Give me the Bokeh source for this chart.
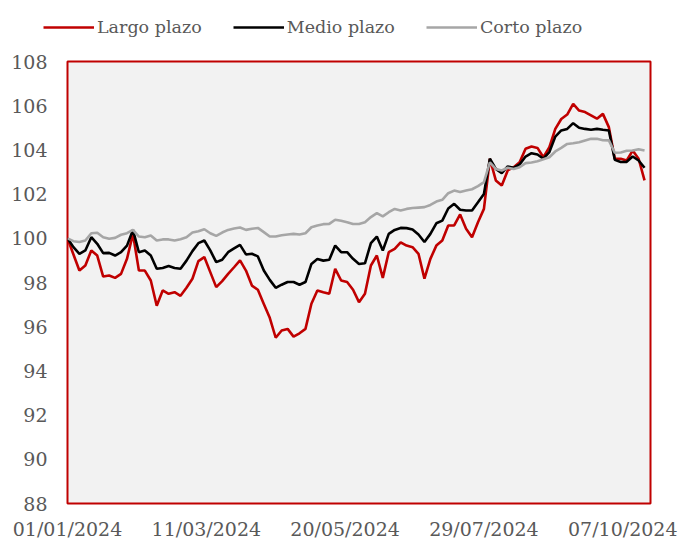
import numpy as np
import pandas as pd
from bokeh.plotting import figure
from bokeh.layouts import column
from bokeh.models import FixedTicker, DatetimeTickFormatter, Legend, LegendItem, Range1d
from bokeh.embed import file_html
from bokeh.resources import INLINE

start_date = "2024-01-01"
n_points = 98
step = "3D"

largo = [100.0, 99.27, 98.54, 98.77, 99.45, 99.22, 98.27, 98.32, 98.21, 98.39,
         99.07, 100.20, 98.54, 98.54, 98.09, 96.95, 97.64, 97.49, 97.56, 97.40,
         97.76, 98.17, 98.97, 99.15, 98.47, 97.79, 98.06, 98.39, 98.69, 99.00,
         98.54, 97.86, 97.67, 97.03, 96.40, 95.50, 95.83, 95.90, 95.55, 95.70,
         95.90, 97.04, 97.64, 97.56, 97.49, 98.62, 98.09, 98.02, 97.67, 97.11,
         97.49, 98.77, 99.22, 98.21, 99.37, 99.52, 99.82, 99.67, 99.60, 99.30,
         98.17, 99.07, 99.67, 99.90, 100.58, 100.58, 101.08, 100.43, 100.05, 100.73,
         101.33, 103.60, 102.62, 102.39, 103.07, 103.22, 103.44, 104.05, 104.15, 104.09,
         103.67, 104.12, 104.95, 105.40, 105.60, 106.08, 105.78, 105.71, 105.56, 105.41,
         105.63, 105.03, 103.60, 103.60, 103.52, 103.97, 103.60, 102.62]

medio = [100.0, 99.60, 99.30, 99.45, 100.05, 99.75, 99.33, 99.34, 99.22, 99.37,
         99.67, 100.38, 99.37, 99.45, 99.22, 98.62, 98.66, 98.75, 98.66, 98.62,
         98.99, 99.42, 99.78, 99.90, 99.45, 98.92, 99.03, 99.37, 99.54, 99.70,
         99.27, 99.30, 99.18, 98.54, 98.12, 97.76, 97.90, 98.02, 98.02, 97.90,
         98.02, 98.84, 99.06, 98.99, 99.03, 99.67, 99.37, 99.37, 99.07, 98.84,
         98.87, 99.78, 100.08, 99.45, 100.20, 100.38, 100.47, 100.46, 100.40, 100.17,
         99.83, 100.20, 100.68, 100.80, 101.35, 101.56, 101.29, 101.26, 101.26, 101.63,
         102.01, 103.60, 103.14, 102.95, 103.25, 103.19, 103.34, 103.70, 103.85, 103.79,
         103.60, 103.90, 104.60, 104.88, 104.95, 105.21, 105.00, 104.95, 104.91, 104.95,
         104.91, 104.88, 103.55, 103.45, 103.46, 103.70, 103.52, 103.19]

corto = [100.0, 99.87, 99.83, 99.90, 100.23, 100.25, 100.05, 99.98, 100.02, 100.16,
         100.23, 100.38, 100.08, 100.05, 100.13, 99.90, 99.95, 99.95, 99.90, 99.96,
         100.05, 100.26, 100.32, 100.41, 100.23, 100.11, 100.26, 100.38, 100.44, 100.49,
         100.38, 100.43, 100.47, 100.28, 100.08, 100.08, 100.14, 100.17, 100.20, 100.17,
         100.23, 100.50, 100.58, 100.64, 100.65, 100.84, 100.79, 100.73, 100.65, 100.65,
         100.73, 100.96, 101.14, 100.99, 101.18, 101.33, 101.26, 101.33, 101.37, 101.39,
         101.41, 101.51, 101.66, 101.74, 102.04, 102.16, 102.09, 102.16, 102.22, 102.36,
         102.54, 103.44, 103.14, 103.07, 103.19, 103.14, 103.22, 103.40, 103.43, 103.49,
         103.58, 103.67, 103.93, 104.09, 104.27, 104.30, 104.35, 104.43, 104.50, 104.50,
         104.44, 104.43, 103.87, 103.88, 103.96, 103.97, 104.03, 103.97]

tick_dates = ["2024-01-01", "2024-03-11", "2024-05-20", "2024-07-29", "2024-10-07"]
y_ticks = [88, 90, 92, 94, 96, 98, 100, 102, 104, 106, 108]
series_names = ["Largo plazo", "Medio plazo", "Corto plazo"]
series_colors = ["#c00000", "#000000", "#a6a6a6"]

dates = pd.date_range(start_date, periods=n_points, freq=step)

FONT = "DejaVu Serif"
TXT = "#595959"
LW = 2.6

# ---- main chart ----
p = figure(frame_width=583, frame_height=442, x_axis_type="datetime",
           output_backend="svg", toolbar_location=None,
           x_range=Range1d(pd.Timestamp("2024-01-01"), pd.Timestamp("2024-10-21")),
           y_range=Range1d(88, 108),
           min_border_left=67, min_border_right=42, min_border_top=18, min_border_bottom=40)
p.frame_align = False

p.background_fill_color = "#f2f2f2"
p.border_fill_color = "white"
p.outline_line_color = "#c00000"
p.outline_line_width = 2
p.xgrid.visible = False
p.ygrid.visible = False

for vals, col in zip([largo, medio, corto], series_colors):
    p.line(dates, vals, line_color=col, line_width=LW)

tick_ms = [pd.Timestamp(d).value // 10**6 for d in tick_dates]
p.xaxis.ticker = FixedTicker(ticks=tick_ms)
fmt = "%d/%m/%Y"
p.xaxis.formatter = DatetimeTickFormatter(days=fmt, months=fmt, years=fmt, hours=fmt,
                                          minutes=fmt, seconds=fmt, milliseconds=fmt,
                                          microseconds=fmt, minsec=fmt, hourmin=fmt)
p.yaxis.ticker = FixedTicker(ticks=y_ticks)

for ax in (p.xaxis[0], p.yaxis[0]):
    ax.axis_line_color = None
    ax.major_tick_line_color = None
    ax.minor_tick_line_color = None
    ax.major_tick_out = 0
    ax.major_tick_in = 0
    ax.minor_tick_out = 0
    ax.major_label_text_font = FONT
    ax.major_label_text_color = TXT
    ax.major_label_text_font_size = "19px"
p.xaxis.major_label_standoff = 14
p.yaxis.major_label_standoff = 20

# ---- legend strip ----
lg = figure(width=692, height=43, output_backend="svg", toolbar_location=None,
            x_axis_location=None, y_axis_location=None,
            min_border_left=0, min_border_right=0, min_border_top=0, min_border_bottom=0)
lg.frame_align = False
lg.outline_line_color = None
lg.background_fill_color = "white"
lg.border_fill_color = "white"
lg.xgrid.visible = False
lg.ygrid.visible = False

items = []
for name, col in zip(series_names, series_colors):
    r = lg.line(x=[np.nan], y=[np.nan], line_color=col, line_width=LW)
    items.append(LegendItem(label=name, renderers=[r]))

legend = Legend(items=items, orientation="horizontal", location=(43, 6),
                label_text_font=FONT, label_text_color=TXT, label_text_font_size="17.5px",
                glyph_width=51, glyph_height=20, label_standoff=3, spacing=31,
                label_height=20,
                padding=0, margin=0, border_line_color=None, background_fill_alpha=0)
lg.add_layout(legend, "center")

layout = column(lg, p, spacing=0)
open("out.html", "w").write(file_html(layout, INLINE))
